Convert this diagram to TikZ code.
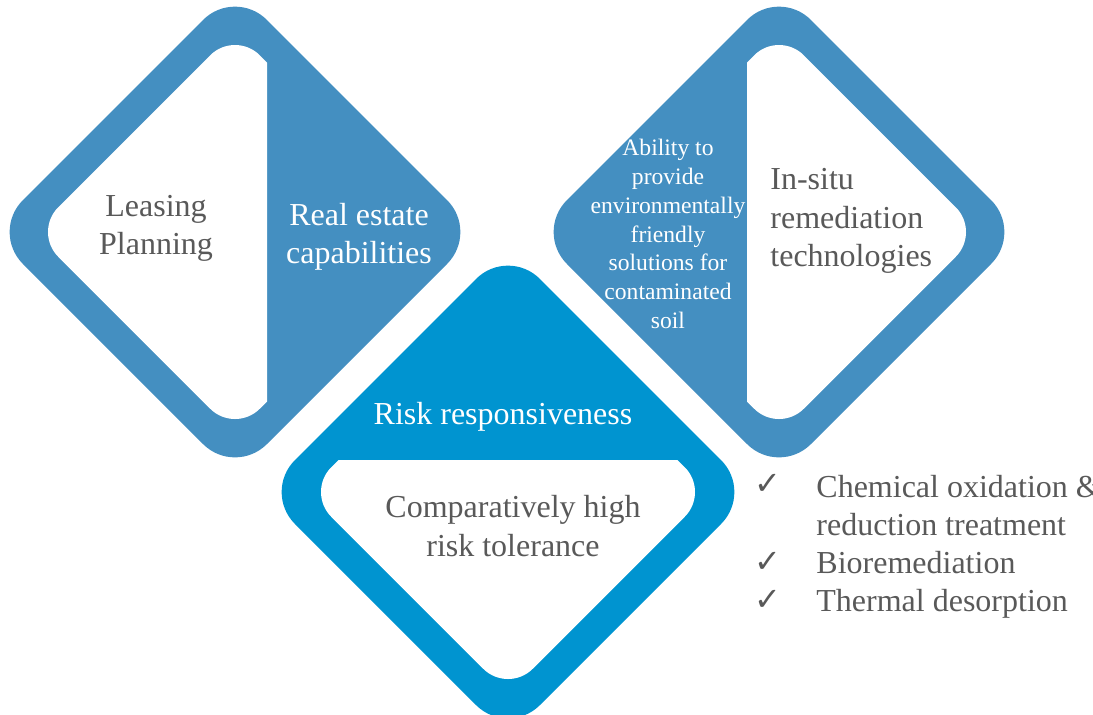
\documentclass[tikz,border=0pt]{standalone}
\usepackage{fontspec}
\setmainfont{Liberation Serif}
\newfontfamily\symfont{DejaVu Sans}
\usetikzlibrary{positioning}
\definecolor{steel}{HTML}{448FC1}
\definecolor{azure}{HTML}{0094D0}
\definecolor{ink}{HTML}{595959}

\begin{document}
\begin{tikzpicture}[x=0.5pt, y=-0.5pt,
	big/.style={inner sep=0pt, align=center, font=\fontsize{16}{19.2}\selectfont},
	small/.style={inner sep=0pt, align=center, text=white, font=\fontsize{11.8}{14.35}\selectfont},
	tick/.style={inner sep=0pt, text=ink, font=\symfont\fontsize{16}{18}\selectfont},
	outer/.style={rounded corners=22.5pt},
	hole/.style={fill=white, rounded corners=17.5pt}]
		\useasboundingbox (0,0) rectangle (1093,714);
		\fill[steel, outer] (113,110) -- (235,-12) -- (479,232) -- (235,476) -- (-9,232) -- cycle;
		\fill[steel, outer] (657,110) -- (779,-12) -- (1023,232) -- (779,476) -- (535,232) -- cycle;
		\fill[azure, outer] (385.5,369.5) -- (508,247) -- (753,492) -- (508,737) -- (263,492) -- cycle;
		\begin{scope}
			\clip (0,0) rectangle (267,714);
			\fill[hole] (134.25,131.25) -- (235,30.5) -- (436.5,232) -- (235,433.5) -- (33.5,232) -- cycle;
		\end{scope}
		\begin{scope}
			\clip (747,0) rectangle (1093,714);
			\fill[hole] (678.25,131.25) -- (779,30.5) -- (980.5,232) -- (779,433.5) -- (577.5,232) -- cycle;
		\end{scope}
		\begin{scope}
			\clip (0,460) rectangle (1093,714);
			\fill[hole] (407.25,391.25) -- (508,290.5) -- (709.5,492) -- (508,693.5) -- (306.5,492) -- cycle;
		\end{scope}
		\node[big, text=ink] (lease) at (156,228.5) {Leasing\\Planning};
		\node[big, text=white] (estate) at (359,237) {Real estate\\capabilities};
		\node[small] (ability) at (668,234) {Ability to\\provide\\environmentally\\friendly\\solutions for\\contaminated\\soil};
		\node[big, text=ink, anchor=west, align=left] (insitu) at (770,221) {In-situ\\remediation\\technologies};
		\node[big, text=white] (risk) at (503,416.5) {Risk responsiveness};
		\node[big, text=ink] (toler) at (513,526) {Comparatively high\\risk tolerance};
		\node[big, text=ink, anchor=west, align=left] (chem) at (816,505.3) {Chemical oxidation \&\\reduction treatment};
		\node[big, text=ink, anchor=base west] (bio) at (816,573) {Bioremediation};
		\node[big, text=ink, anchor=base west] (therm) at (816,611) {Thermal desorption};
		\node[tick] (t1) at (767.5,484) {✓};
		\node[tick] (t2) at (767.5,562) {✓};
		\node[tick] (t3) at (767.5,600) {✓};
\end{tikzpicture}
\end{document}
